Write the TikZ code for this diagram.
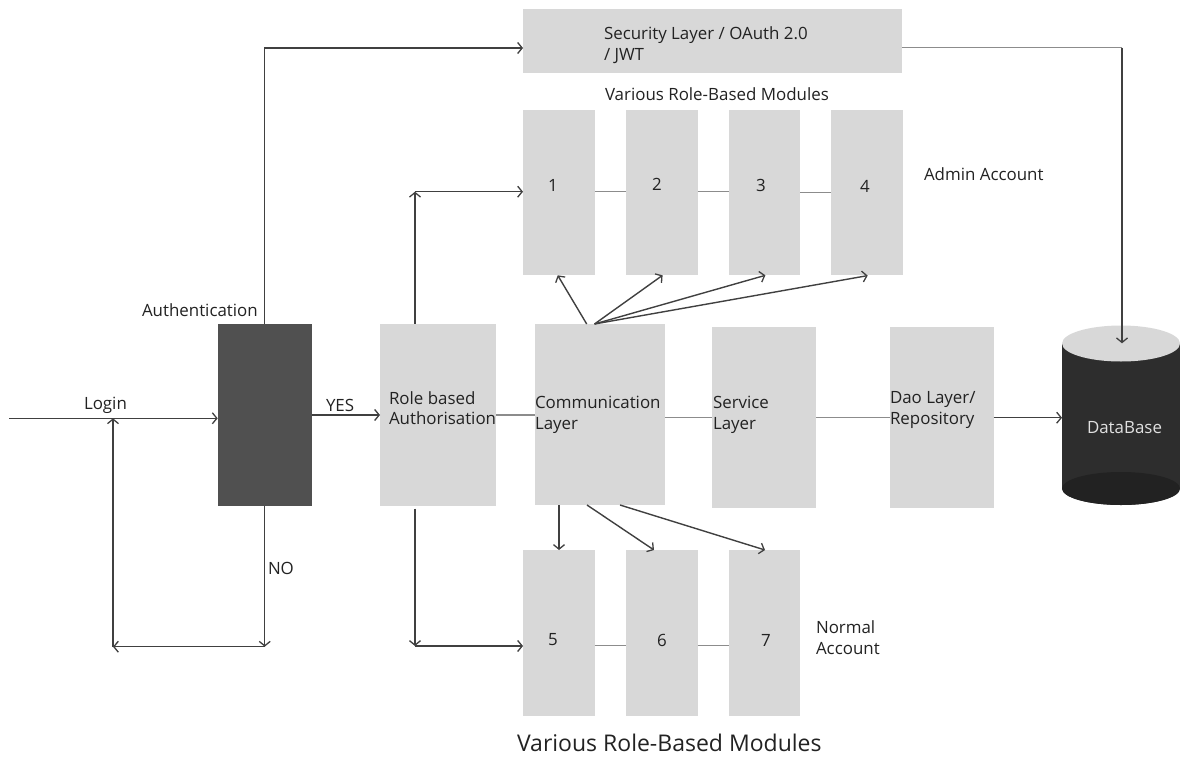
\documentclass[tikz,border=0pt]{standalone}
\usepackage{fontspec}
\setmainfont{Open Sans}
\usetikzlibrary{arrows.meta,shapes.geometric}
\definecolor{boxlight}{HTML}{D8D8D8}
\definecolor{boxdark}{HTML}{505050}
\definecolor{dbbody}{HTML}{2D2D2D}
\definecolor{dbbase}{HTML}{222222}
\definecolor{linedark}{HTML}{404040}
\definecolor{linegray}{HTML}{8C8C8C}
\definecolor{inktext}{HTML}{222222}
\tikzset{
  x=1pt,y=-1pt,
  panel/.style={rectangle,fill=boxlight,draw=none,inner sep=0pt,outer sep=0pt,anchor=north west},
  darkpanel/.style={panel,fill=boxdark},
  txt/.style={anchor=west,inner sep=0pt,outer sep=0pt,text=inktext,font=\fontsize{16.9}{20.6}\selectfont,align=left},
  bigtxt/.style={txt,font=\fontsize{23}{27}\selectfont},
  arr/.style={draw=linedark,line width=1.4pt,-{Straight Barb[length=4.5pt,width=11pt,line width=1.3pt]}},
  link/.style={draw=linegray,line width=1.4pt},
}
\begin{document}
\begin{tikzpicture}
\useasboundingbox (0,0) rectangle (1180,757);
% panels
\node[panel,minimum width=379pt,minimum height=63.5pt] (sec) at (523,9.5) {};
\node[panel,minimum width=71.5pt,minimum height=165pt] (m1) at (523,110) {};
\node[panel,minimum width=71.5pt,minimum height=165pt] (m2) at (626,110) {};
\node[panel,minimum width=71.5pt,minimum height=165pt] (m3) at (728.5,110) {};
\node[panel,minimum width=71.5pt,minimum height=165pt] (m4) at (831,110) {};
\node[panel,minimum width=71.5pt,minimum height=166pt] (m5) at (523,550) {};
\node[panel,minimum width=71.5pt,minimum height=166pt] (m6) at (626,550) {};
\node[panel,minimum width=71.5pt,minimum height=166pt] (m7) at (728.5,550) {};
\node[darkpanel,minimum width=94pt,minimum height=182pt] (auth) at (217.7,323.7) {};
\node[panel,minimum width=116pt,minimum height=182pt] (role) at (380,323.7) {};
\node[panel,minimum width=130pt,minimum height=181pt] (comm) at (534.7,324) {};
\node[panel,minimum width=104pt,minimum height=181pt] (serv) at (712,327) {};
\node[panel,minimum width=104pt,minimum height=181pt] (dao) at (889.5,327) {};
% database
\node[ellipse,fill=dbbody,inner sep=0pt,outer sep=0pt,minimum width=118pt,minimum height=33pt] (dbbottom) at (1121,488.5) {};
\node[rectangle,fill=dbbody,inner sep=0pt,outer sep=0pt,minimum width=118pt,minimum height=145pt] (db) at (1121,416) {};
\node[ellipse,fill=dbbase,inner sep=0pt,outer sep=0pt,minimum width=118pt,minimum height=33pt] (dbfloor) at (1121,488.5) {};
\node[ellipse,fill=boxlight,inner sep=0pt,outer sep=0pt,minimum width=118pt,minimum height=36pt] (dbtop) at (1121,343.5) {};
% free ends and bends
\coordinate (loginstart) at (9,418.3);
\coordinate (authin) at (auth.west |- loginstart);
\coordinate (loginjoin) at (113,418.3);
\coordinate (nobend) at (auth.south |- 0,646.7);
\coordinate (noend) at (loginjoin |- nobend);
\coordinate (yesout) at (311.7,415);
\coordinate (yesin) at (380,415);
\coordinate (secbend) at (auth.north |- 0,48);
\coordinate (secin) at (523,48);
\coordinate (secout) at (902,47.7);
\coordinate (dbbend) at (1122,47.7);
\coordinate (dbin) at (1122,343.3);
\coordinate (roleup) at (415,323.7);
\coordinate (roleupend) at (415,191.7);
\coordinate (m1in) at (523,191.7);
\coordinate (roledown) at (415,508.5);
\coordinate (roledownend) at (415,646);
\coordinate (m5in) at (523,646);
\coordinate (rolecommA) at (495.9,415);
\coordinate (rolecommB) at (534.7,415);
\coordinate (c1s) at (586.7,324);
\coordinate (c0s) at (594.5,324);
\coordinate (t1) at (557.7,275.3);
\coordinate (t2) at (662.6,275.3);
\coordinate (t3) at (765.4,275.3);
\coordinate (t4) at (867.7,275.6);
\coordinate (b5s) at (559,505);
\coordinate (b5e) at (559,550);
\coordinate (b6s) at (587,505);
\coordinate (b6e) at (654,550);
\coordinate (b7s) at (620,505);
\coordinate (b7e) at (765,550);
% connectors
\draw[arr] (loginstart) -- (authin);
\draw[arr] (yesout) -- (yesin);
\draw[arr] (auth.north) -- (secbend) -- (secin);
\draw[arr] (auth.south) -- (nobend);
\draw[arr] (nobend) -- (noend);
\draw[arr] (noend) -- (loginjoin);
\draw[arr] (roleup) -- (roleupend);
\draw[arr] (roleupend) -- (m1in);
\draw[arr] (roledown) -- (roledownend);
\draw[arr] (roledownend) -- (m5in);
\draw[link] (rolecommA) -- (rolecommB);
\draw[link] (comm.east |- 0,417.3) -- (serv.west |- 0,417.3);
\draw[link] (serv.east |- 0,417.3) -- (dao.west |- 0,417.3);
\draw[arr] (dao.east |- 0,417.7) -- (db.west |- 0,417.7);
\draw[link] (secout) -- (dbbend);
\draw[arr] (dbbend) -- (dbin);
\draw[link] (m1.east |- 0,191.7) -- (m2.west |- 0,191.7);
\draw[link] (m2.east |- 0,191.7) -- (m3.west |- 0,191.7);
\draw[link] (m3.east |- 0,192.7) -- (m4.west |- 0,192.7);
\draw[link] (m5.east |- 0,645.7) -- (m6.west |- 0,645.7);
\draw[link] (m6.east |- 0,645.7) -- (m7.west |- 0,645.7);
\draw[arr] (c1s) -- (t1);
\draw[arr] (c0s) -- (t2);
\draw[arr] (c0s) -- (t3);
\draw[arr] (c0s) -- (t4);
\draw[arr] (b5s) -- (b5e);
\draw[arr] (b6s) -- (b6e);
\draw[arr] (b7s) -- (b7e);
% texts
\node[txt] (lauth) at (142,310) {Authentication};
\node[txt] (llogin) at (84,405.5) {Login};
\node[txt] (lyes) at (326,405) {YES};
\node[txt] (lno) at (268,568) {NO};
\node[txt] (lrole) at (389,408) {Role based\\Authorisation};
\node[txt] (lcomm) at (535,415) {Communication\\Layer};
\node[txt] (lserv) at (713,415) {Service\\Layer};
\node[txt] (ldao) at (890,410) {Dao Layer/\\Repository};
\node[txt,text=white!88!black] (ldb) at (1087,428) {DataBase};
\node[txt] (lsec) at (604,45) {Security Layer / OAuth 2.0\\/ JWT};
\node[txt] (ltop) at (605,94.5) {Various Role-Based Modules};
\node[txt] (n1) at (548,185.5) {1};
\node[txt] (n2) at (652,184.5) {2};
\node[txt] (n3) at (756,185) {3};
\node[txt] (n4) at (860,186) {4};
\node[txt] (ladmin) at (924,174.5) {Admin Account};
\node[txt] (n5) at (548,640) {5};
\node[txt] (n6) at (657,640) {6};
\node[txt] (n7) at (761,640) {7};
\node[txt] (lnorm) at (816,637.5) {Normal\\Account};
\node[bigtxt] (lbot) at (517,743) {Various Role-Based Modules};
\end{tikzpicture}
\end{document}
